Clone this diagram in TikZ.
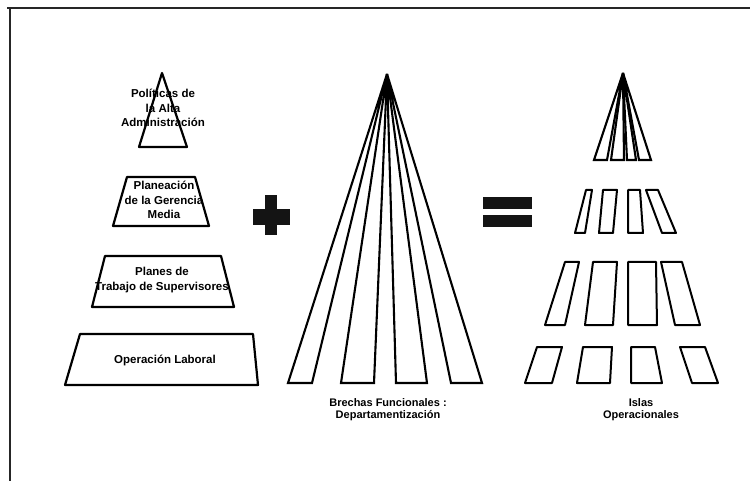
\documentclass[tikz,border=0pt]{standalone}
\usepackage{fontspec}
\setmainfont{Liberation Sans}
\begin{document}
\begin{tikzpicture}[x=1pt,y=-1pt,
  outline/.style={draw=black, line width=2.2pt, line join=round},
  strip/.style={draw=black, line width=2.1pt, line join=miter},
  island/.style={draw=black, line width=2pt, line join=round},
  solid/.style={fill=black!92},
  lbl/.style={font=\bfseries\fontsize{11.5}{14.5}\selectfont, align=center, inner sep=0pt},
  caption/.style={font=\bfseries\fontsize{11}{11.5}\selectfont, align=center, inner sep=0pt}]
\useasboundingbox (0,0) rectangle (750,481);

% page frame (top and left edges)
\draw[line width=2pt, draw=black!85] (7,8.5) -- (750,8.5);
\draw[line width=1.6pt, draw=black!85] (10,8) -- (10,481);

% hierarchy pyramid
\draw[outline] (162,73) -- (187,147) -- (139,147) -- cycle;
\draw[outline] (127,177) -- (195,177) -- (209,226) -- (113,226) -- cycle;
\draw[outline] (105,256) -- (221,256) -- (234,307) -- (92,307) -- cycle;
\draw[outline] (80,334) -- (253,334) -- (258,385) -- (65,385) -- cycle;

\node[lbl] (alta) at (163,108) {Políticas de\\la Alta\\Administración};
\node[lbl] (media) at (164,200) {Planeación\\de la Gerencia\\Media};
\node[lbl] (super) at (162,280) {Planes de\\Trabajo de Supervisores};
\node[lbl] (oper) at (165,360) {Operación Laboral};

% plus sign
\fill[solid] (253,209) rectangle (290,225);
\fill[solid] (265,195) rectangle (277,235);

% equals sign
\fill[solid] (483,197) rectangle (532,209);
\fill[solid] (483,215) rectangle (532,227);

% functional gaps: strips fanning out from one apex
\coordinate (fanA) at (387,74);
\foreach \l/\r in {288/312, 341/374, 396/427, 451/482}
  \draw[strip] (fanA) -- (\l,383) -- (\r,383) -- cycle;
\node[caption] (brechas) at (388,409.5) {Brechas Funcionales :\\Departamentización};

% operational islands: small fan on top
\coordinate (fanB) at (623,73);
\foreach \l/\r in {594/607, 611/624, 627/636, 639/651}
  \draw[strip] (fanB) -- (\l,160) -- (\r,160) -- cycle;

% second row of islands
\draw[island] (586,190) -- (592,190) -- (585,233) -- (575,233) -- cycle;
\draw[island] (603,190) -- (617,190) -- (613,233) -- (599,233) -- cycle;
\draw[island] (628,190) -- (640,190) -- (643,233) -- (628,233) -- cycle;
\draw[island] (646,190) -- (658,190) -- (676,233) -- (662,233) -- cycle;

% third row of islands
\draw[island] (565,262) -- (579,262) -- (565,325) -- (545,325) -- cycle;
\draw[island] (593,262) -- (617,262) -- (613,325) -- (585,325) -- cycle;
\draw[island] (628,262) -- (656,262) -- (657,325) -- (628,325) -- cycle;
\draw[island] (661,262) -- (682,262) -- (700,325) -- (675,325) -- cycle;

% bottom row of islands
\draw[island] (537,347) -- (562,347) -- (552,383) -- (525,383) -- cycle;
\draw[island] (583,347) -- (612,347) -- (610,383) -- (577,383) -- cycle;
\draw[island] (631,347) -- (655,347) -- (662,383) -- (631,383) -- cycle;
\draw[island] (680,347) -- (705,347) -- (718,383) -- (692,383) -- cycle;

\node[caption] (islas) at (641,409.5) {Islas\\Operacionales};
\end{tikzpicture}
\end{document}
